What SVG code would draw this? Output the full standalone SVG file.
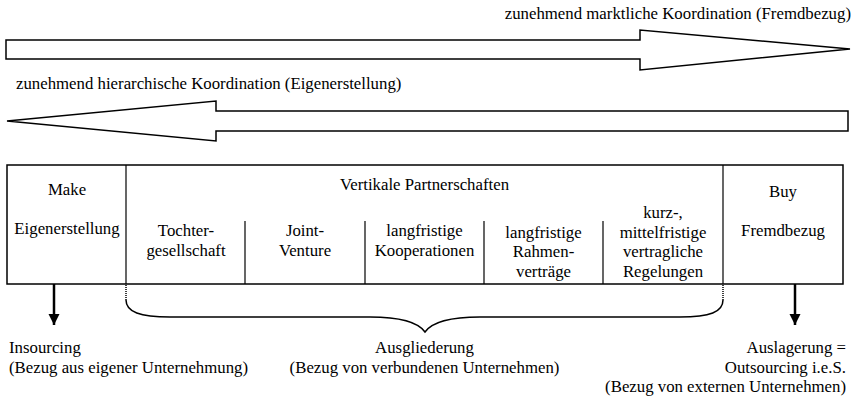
<svg xmlns="http://www.w3.org/2000/svg" width="854" height="398" viewBox="0 0 854 398">
  <style>
    text { font-family: "Liberation Serif", "Times New Roman", serif; font-size: 16.8px; fill: #000; }
    .c { text-anchor: middle; }
    .r { text-anchor: end; }
    .big { fill: #fff; stroke: #000; stroke-width: 1.5; stroke-linejoin: miter; }
    .frame { fill: none; stroke: #000; stroke-width: 1.5; }
    .rule { stroke: #000; stroke-width: 1.2; }
    .down { stroke: #000; stroke-width: 2.5; }
    .brace { fill: none; stroke: #000; stroke-width: 1.5; }
    .stub { stroke: #000; stroke-width: 1.5; stroke-dasharray: 1 1; }
  </style>
  <defs>
    <marker id="head" viewBox="0 0 10 10" refX="10" refY="5" markerWidth="4.4" markerHeight="6" markerUnits="strokeWidth" orient="auto">
      <path d="M0,0 L10,5 L0,10 Z" fill="#000"/>
    </marker>
  </defs>

  <!-- direction arrows -->
  <g id="market">
    <text class="r" x="851" y="19">zunehmend marktliche Koordination (Fremdbezug)</text>
    <polygon class="big" points="6,40 640,40 640,30 850,49 640,70 640,59 6,59"/>
  </g>
  <g id="hierarchy">
    <text x="16" y="89">zunehmend hierarchische Koordination (Eigenerstellung)</text>
    <polygon class="big" points="848,111 216,111 216,101 7,121 216,141 216,131 848,131"/>
  </g>

  <!-- table -->
  <g id="table">
    <rect class="frame" x="7" y="165" width="836" height="119"/>
    <line class="rule" x1="126" y1="165" x2="126" y2="284"/>
    <line class="rule" x1="723" y1="165" x2="723" y2="284"/>
    <line class="rule" x1="245" y1="221" x2="245" y2="284"/>
    <line class="rule" x1="365" y1="221" x2="365" y2="284"/>
    <line class="rule" x1="484" y1="221" x2="484" y2="284"/>
    <line class="rule" x1="603" y1="221" x2="603" y2="284"/>
  </g>
  <g id="make">
    <text class="c" x="67" y="195">Make</text>
    <text class="c" x="67" y="234">Eigenerstellung</text>
  </g>
  <g id="partner">
    <text class="c" x="424.5" y="190">Vertikale Partnerschaften</text>
  </g>
  <g id="tochter">
    <text class="c" x="186" y="236">Tochter-</text>
    <text class="c" x="186" y="256">gesellschaft</text>
  </g>
  <g id="joint">
    <text class="c" x="305" y="236">Joint-</text>
    <text class="c" x="305" y="256">Venture</text>
  </g>
  <g id="koop">
    <text class="c" x="424.5" y="236">langfristige</text>
    <text class="c" x="424.5" y="256">Kooperationen</text>
  </g>
  <g id="rahmen">
    <text class="c" x="543.5" y="237.5">langfristige</text>
    <text class="c" x="543.5" y="257">Rahmen-</text>
    <text class="c" x="543.5" y="276.5">verträge</text>
  </g>
  <g id="kurz">
    <text class="c" x="663" y="218">kurz-,</text>
    <text class="c" x="663" y="237.5">mittelfristige</text>
    <text class="c" x="663" y="257">vertragliche</text>
    <text class="c" x="663" y="276.5">Regelungen</text>
  </g>
  <g id="buy">
    <text class="c" x="783" y="197">Buy</text>
    <text class="c" x="783" y="236">Fremdbezug</text>
  </g>

  <!-- connectors -->
  <g id="connectors">
    <line class="down" x1="54" y1="284" x2="54" y2="325" marker-end="url(#head)"/>
    <line class="down" x1="795" y1="284" x2="795" y2="325" marker-end="url(#head)"/>
    <line class="stub" x1="126" y1="285" x2="126" y2="300"/>
    <line class="stub" x1="723" y1="285" x2="723" y2="300"/>
    <path class="brace" d="M126,300 C126,312 140,317 170,317 L370,317 C400,317 418,322 425,332 C432,322 450,317 480,317 L680,317 C710,317 723,312 723,300"/>
  </g>

  <!-- outcome labels -->
  <g id="insourcing">
    <text x="9" y="353">Insourcing</text>
    <text x="9" y="373">(Bezug aus eigener Unternehmung)</text>
  </g>
  <g id="ausgliederung">
    <text class="c" x="424.5" y="353">Ausgliederung</text>
    <text class="c" x="424.5" y="373">(Bezug von verbundenen Unternehmen)</text>
  </g>
  <g id="auslagerung">
    <text class="r" x="846" y="353">Auslagerung =</text>
    <text class="r" x="846" y="373">Outsourcing i.e.S.</text>
    <text class="r" x="846" y="392">(Bezug von externen Unternehmen)</text>
  </g>
</svg>
